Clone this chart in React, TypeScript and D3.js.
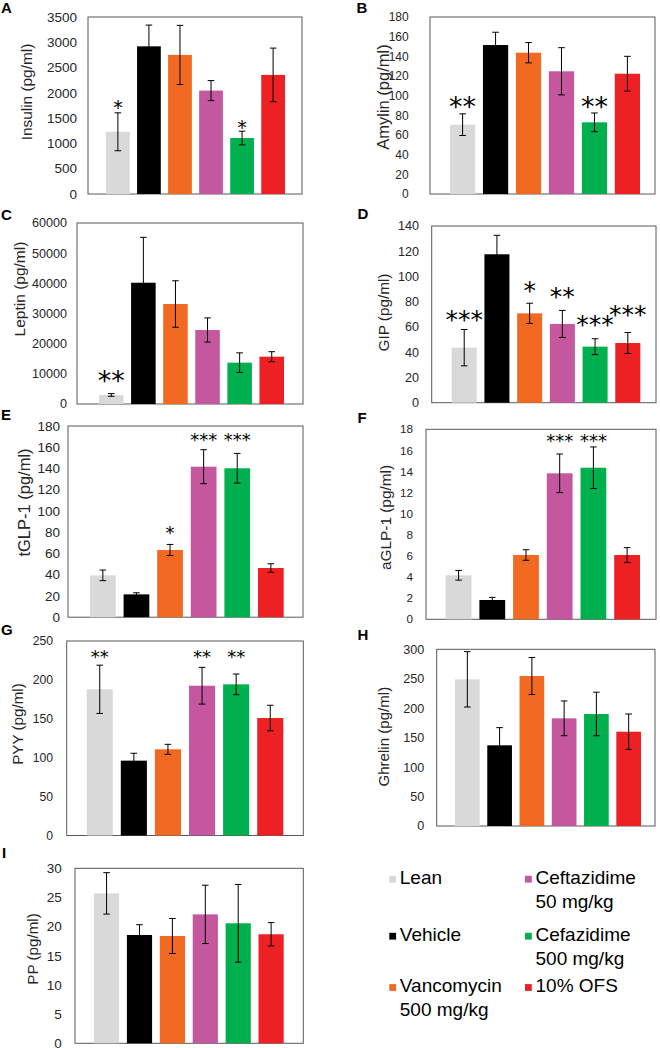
import React from "react";
import * as d3 from "d3";

const groups = ["Lean", "Vehicle", "Vancomycin 500 mg/kg", "Ceftazidime 50 mg/kg", "Cefazidime 500 mg/kg", "10% OFS"];
const groupColors = ["#d9d9d9", "#000000", "#f26a21", "#c5579f", "#00b04f", "#ed2024"];

const insulinMean = [1230, 2920, 2750, 2045, 1107, 2355];
const insulinErr = [375, 420, 585, 198, 135, 530];
const insulinStars = ["*", "", "", "", "*", ""];
const insulinStarAt = [1800, 0, 0, 0, 1404, 0];

const amylinMean = [70.5, 151.5, 143.7, 124.8, 72.9, 122.3];
const amylinErr = [11, 13, 10.3, 24, 9.5, 17.7];
const amylinStars = ["**", "", "", "", "**", ""];
const amylinStarAt = [95.6, 0, 0, 0, 95.6, 0];

const leptinMean = [3000, 40200, 33150, 24530, 13700, 15680];
const leptinErr = [450, 15050, 7700, 4000, 3250, 1660];
const leptinStars = ["**", "", "", "", "", ""];
const leptinStarAt = [9945, 0, 0, 0, 0, 0];

const gipMean = [43.6, 117.6, 70.8, 62.4, 44.4, 47.3];
const gipErr = [14.4, 15, 8, 10.7, 6.3, 8.3];
const gipStars = ["***", "", "*", "**", "***", "***"];
const gipStarAt = [70.8, 0, 93.3, 88.5, 66.3, 74.5];

const tglpMean = [39.4, 21.5, 63.3, 141.7, 140.2, 46.3];
const tglpErr = [5, 1.5, 5.2, 16, 14, 4];
const tglpStars = ["", "", "*", "***", "***", ""];
const tglpStarAt = [0, 0, 83, 170.6, 170.6, 0];

const aglpMean = [4.17, 1.83, 6.09, 13.83, 14.36, 6.09];
const aglpErr = [0.46, 0.25, 0.5, 1.83, 1.97, 0.7];
const aglpStars = ["", "", "", "***", "***", ""];
const aglpStarAt = [0, 0, 0, 17.35, 17.35, 0];

const pyyMean = [187.9, 96.2, 110.8, 192.5, 194.3, 151];
const pyyErr = [31, 9.5, 6.4, 23.6, 13.3, 16.4];
const pyyStars = ["**", "", "", "**", "**", ""];
const pyyStarAt = [235, 0, 0, 235, 235, 0];

const ghrelinMean = [249, 137, 254.6, 182.8, 190.2, 160.1];
const ghrelinErr = [47, 30, 31.4, 29.5, 37, 30];

const ppMean = [25.7, 18.57, 18.4, 22.1, 20.57, 18.69];
const ppErr = [3.55, 1.76, 3, 5, 6.66, 2];

const noStars = ["", "", "", "", "", ""];
const noStarAt = [0, 0, 0, 0, 0, 0];

const legendLines = [["Lean"], ["Vehicle"], ["Vancomycin", "500 mg/kg"], ["Ceftazidime", "50 mg/kg"], ["Cefazidime", "500 mg/kg"], ["10% OFS"]];

type Panel = {
  letter: string; title: string; mean: number[]; err: number[]; stars: string[]; starAt: number[];
  yMax: number; yStep: number; box: [number, number, number, number]; bars: [number, number];
  tickFs: number; tickRight: number; titleFs: number; titleX: number; titleY: number;
  letterX: number; letterY: number; starFs: number;
};

const panels: Panel[] = [
  { letter: "A", title: "Insulin (pg/ml)", mean: insulinMean, err: insulinErr, stars: insulinStars, starAt: insulinStarAt,
    yMax: 3500, yStep: 500, box: [88, 17, 302, 194], bars: [106, 285], tickFs: 13.5, tickRight: 77, titleFs: 15.4, titleX: 32, titleY: 92,
    letterX: 1, letterY: 13, starFs: 19 },
  { letter: "B", title: "Amylin (pg/ml)", mean: amylinMean, err: amylinErr, stars: amylinStars, starAt: amylinStarAt,
    yMax: 180, yStep: 20, box: [430, 17, 655, 194], bars: [450, 640], tickFs: 12, tickRight: 408.7, titleFs: 16.5, titleX: 389, titleY: 97,
    letterX: 356.5, letterY: 13, starFs: 27 },
  { letter: "C", title: "Leptin (pg/ml)", mean: leptinMean, err: leptinErr, stars: leptinStars, starAt: leptinStarAt,
    yMax: 60000, yStep: 10000, box: [77, 223, 303, 404], bars: [99, 284], tickFs: 12.6, tickRight: 67, titleFs: 15.5, titleX: 24.5, titleY: 289,
    letterX: 1, letterY: 220, starFs: 27 },
  { letter: "D", title: "GIP (pg/ml)", mean: gipMean, err: gipErr, stars: gipStars, starAt: gipStarAt,
    yMax: 140, yStep: 20, box: [431.7, 226, 656, 402.7], bars: [451.7, 640.3], tickFs: 12.6, tickRight: 419, titleFs: 15.3, titleX: 389.3, titleY: 312.5,
    letterX: 357.5, letterY: 219, starFs: 25 },
  { letter: "E", title: "tGLP-1 (pg/ml)", mean: tglpMean, err: tglpErr, stars: tglpStars, starAt: tglpStarAt,
    yMax: 180, yStep: 20, box: [68, 426, 303, 617.2], bars: [90, 283.7], tickFs: 13.5, tickRight: 60, titleFs: 16.5, titleX: 30, titleY: 502.5,
    letterX: 1, letterY: 420, starFs: 18 },
  { letter: "F", title: "aGLP-1 (pg/ml)", mean: aglpMean, err: aglpErr, stars: aglpStars, starAt: aglpStarAt,
    yMax: 18, yStep: 2, box: [426, 429.3, 656, 619.3], bars: [445.7, 640], tickFs: 11.7, tickRight: 413, titleFs: 15.4, titleX: 391, titleY: 517.5,
    letterX: 357.5, letterY: 423, starFs: 18 },
  { letter: "G", title: "PYY (pg/ml)", mean: pyyMean, err: pyyErr, stars: pyyStars, starAt: pyyStarAt,
    yMax: 250, yStep: 50, box: [66.7, 641, 303.3, 835.5], bars: [86.7, 283.3], tickFs: 12.2, tickRight: 53, titleFs: 15.2, titleX: 22.6, titleY: 724,
    letterX: 1, letterY: 635, starFs: 18 },
  { letter: "H", title: "Ghrelin (pg/ml)", mean: ghrelinMean, err: ghrelinErr, stars: noStars, starAt: noStarAt,
    yMax: 300, yStep: 50, box: [436.7, 649.3, 655, 826], bars: [455, 641], tickFs: 12.6, tickRight: 424.3, titleFs: 15.1, titleX: 389.2, titleY: 736.7,
    letterX: 357.5, letterY: 640, starFs: 18 },
  { letter: "I", title: "PP (pg/ml)", mean: ppMean, err: ppErr, stars: noStars, starAt: noStarAt,
    yMax: 30, yStep: 5, box: [75, 868.3, 303.3, 1043.3], bars: [94, 283.7], tickFs: 13.5, tickRight: 61.7, titleFs: 15.2, titleX: 37.6, titleY: 949,
    letterX: 2, letterY: 858, starFs: 18 },
];

const FONT = "'Liberation Sans', Arial, sans-serif";
const AXIS = "#595959";

function BarPanel({ p }: { p: Panel }) {
  const [x0, y0, x1, y1] = p.box;
  const x = d3.scaleBand<string>().domain(groups).range(p.bars).paddingInner(0.235).paddingOuter(0);
  const y = d3.scaleLinear().domain([0, p.yMax]).range([y1, y0]);
  const ticks = d3.range(0, p.yMax + p.yStep / 2, p.yStep);
  const bw = x.bandwidth();
  const cap = 3.3;
  return (
    <g>
      <text x={p.letterX} y={p.letterY} fontFamily={FONT} fontWeight="bold" fontSize={15} fill="#000">{p.letter}</text>
      <rect x={x0} y={y0} width={x1 - x0} height={y1 - y0} fill="#fff" stroke={AXIS} strokeWidth={1} />
      {ticks.map((t) => (
        <text key={t} x={p.tickRight} y={y(t)} dy="0.35em" textAnchor="end" fontFamily={FONT} fontSize={p.tickFs} fill="#262626">{t}</text>
      ))}
      <text transform={`translate(${p.titleX},${p.titleY}) rotate(-90)`} textAnchor="middle" fontFamily={FONT} fontSize={p.titleFs} fill="#262626">{p.title}</text>
      {groups.map((g, i) => (
        <rect key={g} x={x(g)} y={y(p.mean[i])} width={bw} height={y1 - y(p.mean[i])} fill={groupColors[i]} />
      ))}
      {groups.map((g, i) => {
        const cx = (x(g) as number) + bw / 2;
        const top = y(p.mean[i] + p.err[i]);
        const bot = y(p.mean[i] - p.err[i]);
        return (
          <g key={g} stroke="#000" strokeWidth={1}>
            <line x1={cx} x2={cx} y1={top} y2={bot} />
            <line x1={cx - cap} x2={cx + cap} y1={top} y2={top} />
            <line x1={cx - cap} x2={cx + cap} y1={bot} y2={bot} />
          </g>
        );
      })}
      {groups.map((g, i) =>
        p.stars[i] ? (
          <text key={g} x={(x(g) as number) + bw / 2} y={y(p.starAt[i]) + 0.575 * p.starFs} textAnchor="middle"
            fontFamily="'DejaVu Sans', sans-serif" fontSize={p.starFs} fill="#000">{p.stars[i]}</text>
        ) : null
      )}
    </g>
  );
}

function Legend() {
  const cols = [389.3, 525];
  const rows = [884, 941, 992.3];
  const lh = 23.8;
  return (
    <g fontFamily={FONT} fontSize={19} fill="#000">
      {groups.map((g, i) => {
        const col = Math.floor(i / 3);
        const row = i % 3;
        const sx = cols[col];
        const by = rows[row];
        return (
          <g key={g}>
            <rect x={sx} y={by - 8.2} width={6.8} height={6.8} fill={groupColors[i]} />
            {legendLines[i].map((ln, k) => (
              <text key={k} x={sx + 10.5} y={by + k * lh}>{ln}</text>
            ))}
          </g>
        );
      })}
    </g>
  );
}

export default function App() {
  return (
    <svg width={660} height={1048} style={{ position: "absolute", left: 0, top: 0, background: "#fff" }}>
      <rect x={0} y={0} width={660} height={1048} fill="#fff" />
      {panels.map((p) => <BarPanel key={p.letter} p={p} />)}
      <Legend />
    </svg>
  );
}
